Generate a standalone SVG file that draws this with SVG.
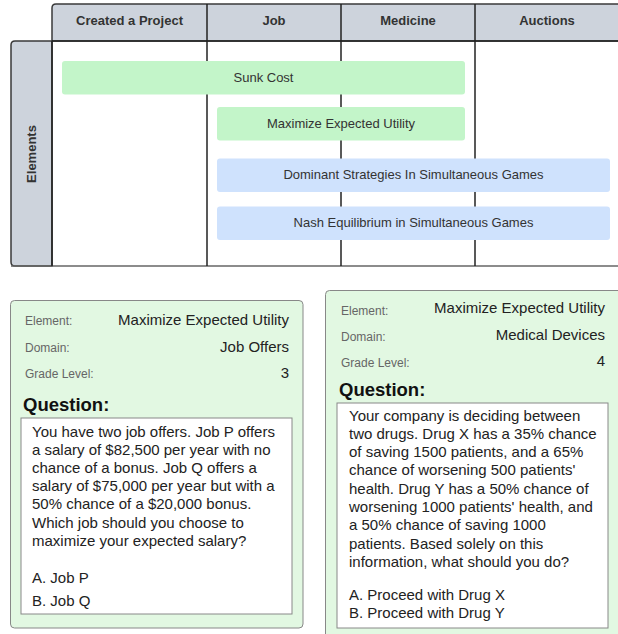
<svg xmlns="http://www.w3.org/2000/svg" width="618" height="634" viewBox="0 0 618 634">
<style>
.hdr{fill:#cdd3dc;stroke:#3a3a3a;stroke-width:1.5}
.htxt{font-family:"Liberation Sans",Arial,sans-serif;font-size:13px;font-weight:bold;fill:#333;text-anchor:middle}
.div{stroke:#222;stroke-width:1.5}
.green{fill:#c3f5c9}
.blue{fill:#cfe2fd}
.btxt{font-family:"Liberation Sans",Arial,sans-serif;font-size:13px;fill:#333;text-anchor:middle}
.card{fill:#e2f8e2;stroke:#888;stroke-width:1}
.box{fill:#fff;stroke:#888;stroke-width:1}
.lbl{font-family:"Liberation Sans",Arial,sans-serif;font-size:12px;fill:#666}
.val{font-family:"Liberation Sans",Arial,sans-serif;font-size:15px;fill:#222;text-anchor:end}
.q{font-family:"Liberation Sans",Arial,sans-serif;font-size:18.5px;font-weight:bold;fill:#111}
.body{font-family:"Liberation Sans",Arial,sans-serif;font-size:15px;fill:#222}
</style>
<rect width="618" height="634" fill="#fff"/>
<g id="table">
  <rect x="52" y="41" width="570" height="225" fill="#fff"/>
  <path class="hdr" d="M52,41 V8 Q52,4 56,4 H622 V41 Z"/>
  <path class="hdr" d="M52,41 H15 Q11,41 11,45 V262 Q11,266 15,266 H52 Z"/>
  <line x1="11" y1="266" x2="620" y2="266" stroke="#666" stroke-width="1.5"/>
  <line class="div" x1="52" y1="41" x2="52" y2="266"/>
  <line class="div" x1="207" y1="4" x2="207" y2="266"/>
  <line class="div" x1="341" y1="4" x2="341" y2="266"/>
  <line class="div" x1="475" y1="4" x2="475" y2="266"/>
  <line x1="52" y1="41" x2="620" y2="41" stroke="#222" stroke-width="1.5"/>
  <text class="htxt" x="129.5" y="25">Created a Project</text>
  <text class="htxt" x="274" y="25">Job</text>
  <text class="htxt" x="408" y="25">Medicine</text>
  <text class="htxt" x="547" y="25">Auctions</text>
  <text class="htxt" transform="translate(35.5,154) rotate(-90)">Elements</text>
</g>
<g id="sunk-cost">
  <rect class="green" x="62" y="61" width="403" height="33.5" rx="3"/>
  <text class="btxt" x="263.5" y="82">Sunk Cost</text>
</g>
<g id="max-expected-utility">
  <rect class="green" x="217" y="107" width="248" height="33.5" rx="3"/>
  <text class="btxt" x="341" y="127.5">Maximize Expected Utility</text>
</g>
<g id="dominant-strategies">
  <rect class="blue" x="217" y="158.5" width="393" height="33.5" rx="3"/>
  <text class="btxt" x="413.5" y="179">Dominant Strategies In Simultaneous Games</text>
</g>
<g id="nash-equilibrium">
  <rect class="blue" x="217" y="206.5" width="393" height="33.5" rx="3"/>
  <text class="btxt" x="413.5" y="227">Nash Equilibrium in Simultaneous Games</text>
</g>
<g id="card-job">
  <rect class="card" x="10.5" y="300.5" width="292.5" height="327.5" rx="4"/>
  <text class="lbl" x="25" y="325">Element:</text>
  <text class="val" x="289" y="325">Maximize Expected Utility</text>
  <text class="lbl" x="25" y="352">Domain:</text>
  <text class="val" x="289" y="352">Job Offers</text>
  <text class="lbl" x="25" y="378">Grade Level:</text>
  <text class="val" x="289" y="378">3</text>
  <text class="q" x="23" y="410.5">Question:</text>
  <rect class="box" x="21" y="418" width="271" height="196"/>
  <text class="body" x="32">
    <tspan x="32" y="436.5">You have two job offers. Job P offers</tspan>
    <tspan x="32" y="454.7">a salary of $82,500 per year with no</tspan>
    <tspan x="32" y="472.9">chance of a bonus. Job Q offers a</tspan>
    <tspan x="32" y="491.1">salary of $75,000 per year but with a</tspan>
    <tspan x="32" y="509.3">50% chance of a $20,000 bonus.</tspan>
    <tspan x="32" y="527.5">Which job should you choose to</tspan>
    <tspan x="32" y="545.7">maximize your expected salary?</tspan>
    <tspan x="32" y="583">A. Job P</tspan>
    <tspan x="32" y="606">B. Job Q</tspan>
  </text>
</g>
<g id="card-medicine">
  <rect class="card" x="325.5" y="290.5" width="300" height="360" rx="4"/>
  <text class="lbl" x="341" y="314.5">Element:</text>
  <text class="val" x="605" y="313">Maximize Expected Utility</text>
  <text class="lbl" x="341" y="341">Domain:</text>
  <text class="val" x="605" y="340">Medical Devices</text>
  <text class="lbl" x="341" y="367">Grade Level:</text>
  <text class="val" x="605" y="366">4</text>
  <text class="q" x="339" y="395.5">Question:</text>
  <rect class="box" x="337" y="403" width="271" height="225"/>
  <text class="body" x="349">
    <tspan x="349" y="420.5">Your company is deciding between</tspan>
    <tspan x="349" y="438.8">two drugs. Drug X has a 35% chance</tspan>
    <tspan x="349" y="457.1">of saving 1500 patients, and a 65%</tspan>
    <tspan x="349" y="475.4">chance of worsening 500 patients'</tspan>
    <tspan x="349" y="493.7">health. Drug Y has a 50% chance of</tspan>
    <tspan x="349" y="512">worsening 1000 patients' health, and</tspan>
    <tspan x="349" y="530.3">a 50% chance of saving 1000</tspan>
    <tspan x="349" y="548.6">patients. Based solely on this</tspan>
    <tspan x="349" y="566.9">information, what should you do?</tspan>
    <tspan x="349" y="599.5">A. Proceed with Drug X</tspan>
    <tspan x="349" y="617.5">B. Proceed with Drug Y</tspan>
  </text>
</g>
</svg>
